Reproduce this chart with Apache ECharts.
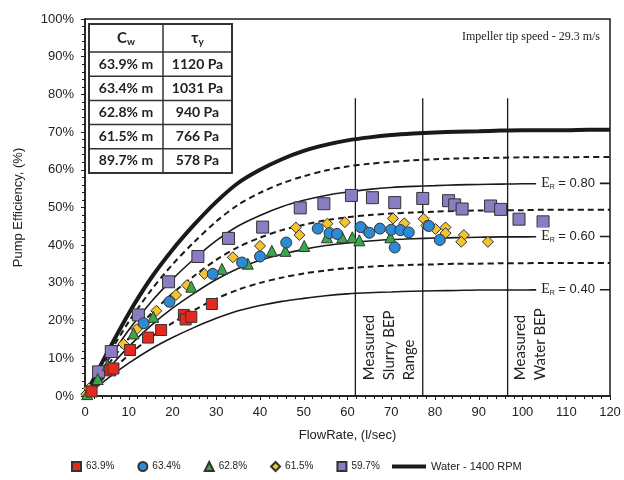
<!DOCTYPE html>
<html><head><meta charset="utf-8">
<script src="https://cdn.jsdelivr.net/npm/echarts@6/dist/echarts.min.js"></script>
<style>html,body{margin:0;padding:0;background:#fff}#c{width:624px;height:480px}</style>
</head><body><div id="c"></div>
<script>
// ---- data ----
const flowX = [0, 5, 10, 15, 20, 25, 30, 35, 40, 45, 50, 55, 60, 65, 70, 75, 80, 85, 90, 95, 100, 105, 110, 115, 120];
const water = [0, 11.3, 21.9, 31.1, 38.8, 45.5, 51.5, 56.5, 60.0, 62.8, 65.0, 66.6, 67.8, 68.6, 69.2, 69.6, 69.9, 70.1, 70.2, 70.4, 70.5, 70.5, 70.5, 70.6, 70.6];
const er90 = [0, 10.1, 19.7, 27.9, 34.9, 40.9, 46.3, 50.7, 53.9, 56.4, 58.3, 59.8, 60.9, 61.6, 62.1, 62.5, 62.8, 63.0, 63.1, 63.2, 63.3, 63.3, 63.3, 63.4, 63.4];
const er80 = [0, 9.0, 17.5, 24.8, 31.0, 36.4, 41.2, 45.1, 47.9, 50.2, 51.9, 53.2, 54.1, 54.8, 55.3, 55.6, 55.8, 56.0, 56.1, 56.2, 56.3, 56.3, 56.3, 56.4, 56.4];
const er70 = [0, 7.9, 15.3, 21.7, 27.2, 31.9, 36.1, 39.5, 42.0, 44.0, 45.4, 46.6, 47.4, 48.0, 48.4, 48.7, 48.9, 49.1, 49.2, 49.3, 49.3, 49.4, 49.4, 49.4, 49.4];
const er60 = [0, 6.8, 13.1, 18.6, 23.3, 27.3, 30.9, 33.8, 36.0, 37.6, 38.9, 39.9, 40.6, 41.1, 41.5, 41.7, 41.9, 42.0, 42.1, 42.2, 42.2, 42.3, 42.3, 42.3, 42.3];
const er50 = [0, 5.6, 10.9, 15.5, 19.4, 22.8, 25.8, 28.2, 30.0, 31.4, 32.5, 33.3, 33.9, 34.3, 34.6, 34.8, 34.9, 35.1, 35.1, 35.2, 35.2, 35.3, 35.3, 35.3, 35.3];
const er40 = [0, 4.5, 8.7, 12.4, 15.5, 18.2, 20.6, 22.6, 24.0, 25.1, 25.9, 26.6, 27.1, 27.4, 27.6, 27.8, 27.9, 28.0, 28.1, 28.1, 28.1, 28.2, 28.2, 28.2, 28.2];

const cw639 = [[1.5,1.2],[5.8,6.8],[6.5,7.3],[10.3,12.2],[14.4,15.5],[17.4,17.5],[22.6,21.5],[23,20.3],[24.3,21],[29,24.4]];
const cw634 = [[13.4,19.3],[19.3,25],[29.2,32.4],[35.9,35.4],[40,37],[46,40.7],[53.2,44.4],[55.9,43.2],[57.6,43],[63,44.8],[65,43.3],[67.4,44.4],[70,44.1],[70.8,39.4],[72.1,44],[74,43.4],[78.6,45.1],[81.1,41.4]];
const cw628 = [[0.5,0.5],[2.9,4.5],[5.2,8.2],[11.1,16.6],[15.6,21],[24.3,29],[31.3,33.7],[37.2,35.1],[42.7,38.5],[45.8,38.5],[50.1,39.8],[55.3,42.1],[58.8,42.1],[61.1,42.1],[62.7,41.3],[69.8,42.1]];
const cw615 = [[0.3,0.5],[0.9,2],[8.8,13.8],[11.8,17.7],[16.3,22.6],[20.8,26.8],[23.3,29.4],[27.3,32.4],[33.8,36.8],[40,39.8],[48.2,44.7],[49,42.7],[55.4,45.7],[59.4,46.1],[63.9,44.2],[70.4,47.1],[73,45.8],[77.4,47],[78,45.2],[80.1,44.3],[82.4,44.7],[82.4,43.2],[86.6,42.7],[86,40.9],[92.1,40.9]];
const cw597 = [[3.1,6.4],[6,11.8],[12.2,21.5],[19.1,30.3],[25.8,37],[32.8,41.8],[40.6,44.8],[49.2,49.9],[54.6,51],[60.9,53.2],[65.7,52.6],[70.8,51.3],[77.2,52.4],[83.1,51.8],[84.5,50.7],[86.2,49.6],[92.7,50.4],[95,49.5],[99.2,46.9],[104.7,46.2]];

const legendNames = ['63.9%', '63.4%', '62.8%', '61.5%', '59.7%'];
const waterName = 'Water - 1400 RPM';
const tableHead = ['C', 'τ'];
const cwLabels = ['63.9% m', '63.4% m', '62.8% m', '61.5% m', '89.7% m'];
const tauLabels = ['1120 Pa', '1031 Pa', '940 Pa', '766 Pa', '578 Pa'];
const erLabelValues = ['0.80', '0.60', '0.40'];
const bepX = [61.8, 77.2, 96.6];
const bepTop = 79;
const slurryBepText = 'Measured\nSlurry BEP\nRange';
const waterBepText = 'Measured\nWater BEP';
const tipSpeedText = 'Impeller tip speed - 29.3 m/s';

// ---- chart ----
const chart = echarts.init(document.getElementById('c'), null, {renderer: 'canvas'});
const pts = arr => flowX.map((x, i) => [x, arr[i]]);
const DARK = '#1a1a1a';
const curve = (arr, w, dashed) => ({
  type: 'line', data: pts(arr), smooth: 0.3, symbol: 'none', showSymbol: false,
  silent: true, z: 2, color: DARK,
  itemStyle: {color: DARK},
  lineStyle: {color: DARK, width: w, type: dashed ? [6, 4] : 'solid'}
});
const scat = (name, data, symbol, size, color) => ({
  type: 'scatter', name, data, symbol, symbolSize: size, z: 4,
  itemStyle: {color, borderColor: '#333', borderWidth: 1, opacity: 1}
});

const series = [
  Object.assign(curve(water, 4, false), {name: waterName}),
  curve(er90, 2, true),
  curve(er80, 1.6, false),
  curve(er70, 2, true),
  curve(er60, 1.6, false),
  curve(er50, 2, true),
  curve(er40, 1.6, false)
];
bepX.forEach(x => series.push({
  type: 'line', data: [[x, 0], [x, bepTop]], symbol: 'none', silent: true, z: 2,
  lineStyle: {color: DARK, width: 1.3}
}));
series.push(
  scat(legendNames[4], cw597, 'rect', 12, '#8b7cc4'),
  scat(legendNames[3], cw615, 'diamond', 11, '#f4c430'),
  scat(legendNames[2], cw628, 'triangle', 11, '#38a84a'),
  scat(legendNames[1], cw634, 'circle', 11, '#2d8ad4'),
  scat(legendNames[0], cw639, 'rect', 11, '#e5291e')
);

const axisFont = {fontFamily: 'Liberation Sans', fontSize: 13, color: '#222'};
chart.setOption({
  animation: false,
  backgroundColor: '#fff',
  grid: {left: 85, right: 14, top: 19, bottom: 84, show: true, borderColor: DARK, borderWidth: 1.5,
         containLabel: false, outerBoundsMode: 'none'},
  xAxis: {
    type: 'value', min: 0, max: 120, interval: 10,
    name: 'FlowRate, (l/sec)', nameLocation: 'middle', nameGap: 33,
    nameTextStyle: Object.assign({}, axisFont),
    axisLine: {show: true, lineStyle: {color: DARK, width: 1.5}},
    axisTick: {show: true, length: 4, lineStyle: {color: DARK}},
    minorTick: {show: true, splitNumber: 5, length: 3, lineStyle: {color: DARK}},
    splitLine: {show: false},
    axisLabel: Object.assign({margin: 10}, axisFont)
  },
  yAxis: {
    type: 'value', min: 0, max: 100, interval: 10,
    name: 'Pump Efficiency, (%)', nameLocation: 'middle', nameGap: 60,
    nameTextStyle: Object.assign({}, axisFont),
    axisLine: {show: true, lineStyle: {color: DARK, width: 1.5}},
    axisTick: {show: true, length: 4, lineStyle: {color: DARK}},
    minorTick: {show: true, splitNumber: 5, length: 3, lineStyle: {color: DARK}},
    splitLine: {show: false},
    axisLabel: Object.assign({margin: 11, formatter: '{value}%'}, axisFont)
  },
  legend: [
    {data: legendNames, left: 66, top: 456, itemWidth: 9, itemHeight: 9, itemGap: 23,
     textStyle: {fontFamily: 'Liberation Sans', fontSize: 10, color: '#222'}, selectedMode: false},
    {data: [{name: waterName, icon: 'rect', itemStyle: {color: DARK}}], left: 387, top: 456,
     itemWidth: 34, itemHeight: 4, itemGap: 10,
     textStyle: {fontFamily: 'Liberation Sans', fontSize: 11, color: '#222'}, selectedMode: false}
  ],
  series
});

// ---- annotations placed through the axes ----
const px = (x, y) => chart.convertToPixel({gridIndex: 0}, [x, y]);
const graphics = [];

// table
const tL = 89, tR = 232, tC = 163, tT = 24, hH = 28, rH = 24.2;
const tB = tT + hH + rH * cwLabels.length;
graphics.push({type: 'rect', shape: {x: tL, y: tT, width: tR - tL, height: tB - tT},
  style: {fill: '#fff', stroke: '#333', lineWidth: 2}, z: 10});
graphics.push({type: 'line', shape: {x1: tC, y1: tT, x2: tC, y2: tB}, style: {stroke: '#333', lineWidth: 1.5}, z: 11});
for (let i = 0; i < cwLabels.length; i++) {
  const yy = tT + hH + rH * i;
  graphics.push({type: 'line', shape: {x1: tL, y1: yy, x2: tR, y2: yy}, style: {stroke: '#333', lineWidth: 1.5}, z: 11});
}
const cellFont = {fontFamily: 'Lato', fontWeight: 'bold', fontSize: 14, fill: '#222'};
const headRich = {
  m: {fontFamily: 'Lato', fontWeight: 'bold', fontSize: 15, fill: '#222'},
  s: {fontFamily: 'Lato', fontWeight: 'bold', fontSize: 10, fill: '#222', padding: [7, 0, 0, 0]}
};
graphics.push({type: 'text', x: (tL + tC) / 2, y: tT + hH / 2, z: 12,
  style: {text: '{m|' + tableHead[0] + '}{s|w}', rich: headRich, align: 'center', verticalAlign: 'middle'}});
graphics.push({type: 'text', x: (tC + tR) / 2, y: tT + hH / 2, z: 12,
  style: {text: '{m|' + tableHead[1] + '}{s|y}', rich: headRich, align: 'center', verticalAlign: 'middle'}});
cwLabels.forEach((t, i) => {
  const yy = tT + hH + rH * i + rH / 2;
  graphics.push({type: 'text', x: (tL + tC) / 2, y: yy, z: 12,
    style: Object.assign({text: t, align: 'center', verticalAlign: 'middle'}, cellFont)});
  graphics.push({type: 'text', x: (tC + tR) / 2, y: yy, z: 12,
    style: Object.assign({text: tauLabels[i], align: 'center', verticalAlign: 'middle'}, cellFont)});
});

// tip speed
graphics.push({type: 'text', x: 600, y: 37, z: 12,
  style: {text: tipSpeedText, fontFamily: 'Liberation Serif', fontSize: 12, fill: '#222',
          align: 'right', verticalAlign: 'middle'}});

// ER labels
const erCurves = [er80, er60, er40];
const idx110 = flowX.indexOf(110);
erCurves.forEach((arr, i) => {
  const p = px(110.4, arr[idx110]);
  graphics.push({type: 'text', x: p[0], y: p[1], z: 12,
    style: {text: '{e|E}{s|R}{v| = ' + erLabelValues[i] + '}', align: 'center', verticalAlign: 'middle',
      backgroundColor: '#fff', padding: [2, 5],
      rich: {
        e: {fontFamily: 'Liberation Serif', fontSize: 14, fill: '#222'},
        s: {fontFamily: 'Liberation Sans', fontSize: 7, fill: '#222', padding: [7, 0, 0, 0]},
        v: {fontFamily: 'Liberation Sans', fontSize: 13, fill: '#222'}
      }}});
});

// BEP labels (rotated)
const bepLabel = (x, text) => {
  const p = px(x, 4.2);
  graphics.push({type: 'text', x: p[0], y: p[1], rotation: Math.PI / 2, z: 12,
    style: {text, fontFamily: 'Lato', fontSize: 15, lineHeight: 20, fill: '#222',
            align: 'left', verticalAlign: 'top'}});
};
bepLabel(62.7, slurryBepText);
bepLabel(97.1, waterBepText);

chart.setOption({graphic: graphics});
</script></body></html>
